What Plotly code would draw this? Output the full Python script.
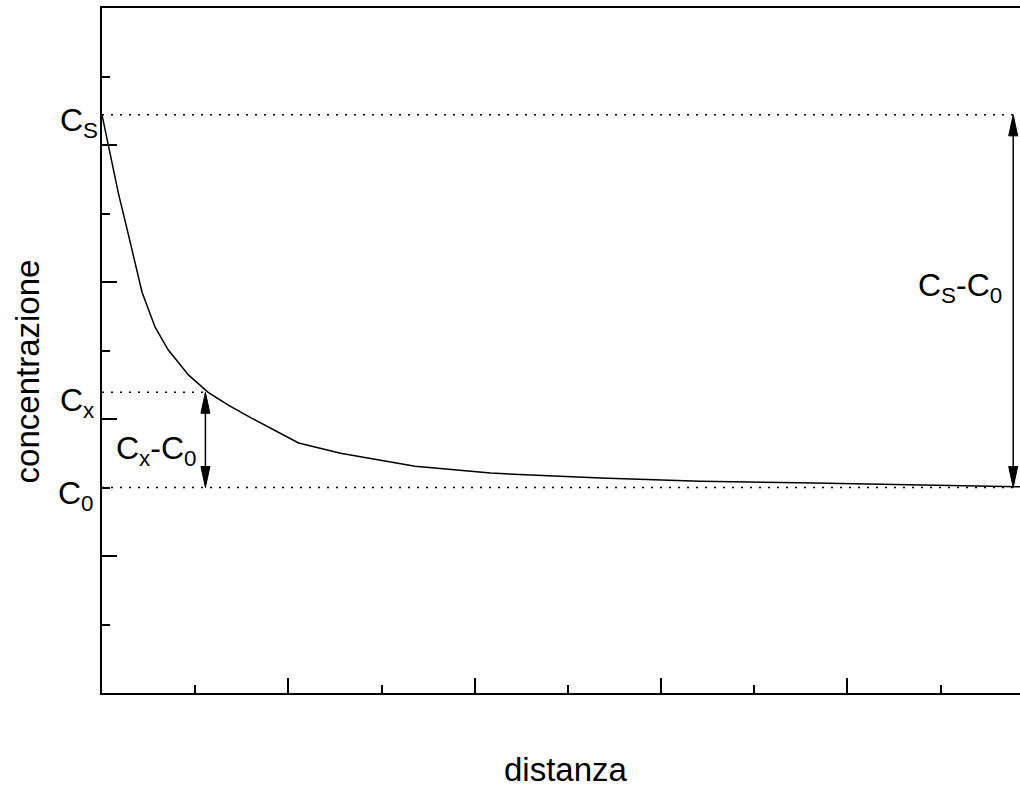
import plotly.graph_objects as go

# ---- data ----
distance = [0.0, 0.175, 0.28, 0.43, 0.57, 0.71, 0.93, 1.14, 1.36, 1.61, 2.11, 2.56,
            3.36, 4.17, 5.35, 6.42, 7.49, 8.57, 9.86]
concentration = [8.44, 7.30, 6.71, 5.85, 5.34, 5.01, 4.64, 4.39, 4.20, 4.01, 3.65, 3.50,
                 3.31, 3.21, 3.14, 3.09, 3.07, 3.04, 3.01]

C_S = 8.44      # surface concentration
C_X = 4.39      # concentration at depth x
C_0 = 3.0       # initial concentration
X_X = 1.11      # position of the Cx - C0 arrow
X_S = 9.78      # position of the Cs - C0 arrow
X_MAX = 9.853
Y_MAX = 10.0

FONT = "Liberation Sans, Arial, sans-serif"

fig = go.Figure()

# dotted reference lines
dot = dict(color="black", width=1.5, dash="2px,7px")
fig.add_trace(go.Scatter(x=[0, X_MAX], y=[C_S, C_S], mode="lines", line=dot, hoverinfo="skip"))
fig.add_trace(go.Scatter(x=[0, X_X], y=[C_X, C_X], mode="lines", line=dot, hoverinfo="skip"))
fig.add_trace(go.Scatter(x=[0, X_MAX], y=[C_0, C_0], mode="lines", line=dot, hoverinfo="skip"))

# concentration profile
fig.add_trace(go.Scatter(x=distance, y=concentration, mode="lines",
                         line=dict(color="black", width=1.5), hoverinfo="skip"))

# double arrows (shaft + heads as shapes)
px_x = 93.17   # pixels per x unit
px_y = 68.5    # pixels per y unit
hw = 4.5 / px_x
hl = 21.0 / px_y
shapes = []
for xa, ytop, ybot in [(X_X, C_X, C_0), (X_S, C_S, C_0)]:
    shapes.append(dict(type="line", x0=xa, x1=xa, y0=ybot + hl * 0.5, y1=ytop - hl * 0.5,
                       xref="x", yref="y", line=dict(color="black", width=1.5)))
    shapes.append(dict(type="path", xref="x", yref="y",
                       path=f"M{xa},{ytop} L{xa - hw},{ytop - hl} L{xa + hw},{ytop - hl} Z",
                       fillcolor="black", line=dict(color="black", width=1)))
    shapes.append(dict(type="path", xref="x", yref="y",
                       path=f"M{xa},{ybot} L{xa - hw},{ybot + hl} L{xa + hw},{ybot + hl} Z",
                       fillcolor="black", line=dict(color="black", width=1)))

lab_font = dict(family=FONT, size=32, color="black")
annotations = [
    dict(x=0, y=C_S, xref="x", yref="y", text="C<sub>S</sub>", showarrow=False,
         xanchor="right", yanchor="middle", xshift=-2, yshift=-8, font=lab_font),
    dict(x=0, y=C_X, xref="x", yref="y", text="C<sub>x</sub>", showarrow=False,
         xanchor="right", yanchor="middle", xshift=-6, yshift=-10, font=lab_font),
    dict(x=0, y=C_0, xref="x", yref="y", text="C<sub>0</sub>", showarrow=False,
         xanchor="right", yanchor="middle", xshift=-6, yshift=-8, font=lab_font),
    dict(x=0.59, y=3.66, xref="x", yref="y", text="C<sub>x</sub>-C<sub>0</sub>",
         showarrow=False, xanchor="center", yanchor="middle", yshift=-8, font=lab_font),
    dict(x=9.21, y=6.04, xref="x", yref="y", text="C<sub>S</sub>-C<sub>0</sub>",
         showarrow=False, xanchor="center", yanchor="middle", yshift=-8, font=lab_font),
    dict(x=-0.0813, y=0.47, xref="paper", yref="paper", text="concentrazione",
         showarrow=False, textangle=-90, xanchor="center", yanchor="middle",
         font=dict(family=FONT, size=33, color="black")),
    dict(x=0.5056, y=-0.1124, xref="paper", yref="paper", text="distanza",
         showarrow=False, xanchor="center", yanchor="middle",
         font=dict(family=FONT, size=33, color="black")),
]

fig.update_layout(
    width=1020, height=787, autosize=False,
    margin=dict(l=102, r=0, t=8, b=94, pad=0),
    paper_bgcolor="white", plot_bgcolor="white",
    showlegend=False,
    shapes=shapes,
    annotations=annotations,
    xaxis=dict(range=[0, X_MAX], showgrid=False, zeroline=False, showticklabels=False,
               showline=True, linecolor="black", linewidth=2, mirror=True,
               ticks="inside", ticklen=15, tickwidth=2, tickcolor="black",
               tick0=0, dtick=2,
               minor=dict(ticks="inside", ticklen=8, tickwidth=2, tickcolor="black",
                          tick0=0, dtick=1)),
    yaxis=dict(range=[0, Y_MAX], showgrid=False, zeroline=False, showticklabels=False,
               showline=True, linecolor="black", linewidth=2, mirror=False,
               ticks="inside", ticklen=15, tickwidth=2, tickcolor="black",
               tick0=0, dtick=2,
               minor=dict(ticks="inside", ticklen=8, tickwidth=2, tickcolor="black",
                          tick0=0, dtick=1)),
)

fig.write_html("out.html")
